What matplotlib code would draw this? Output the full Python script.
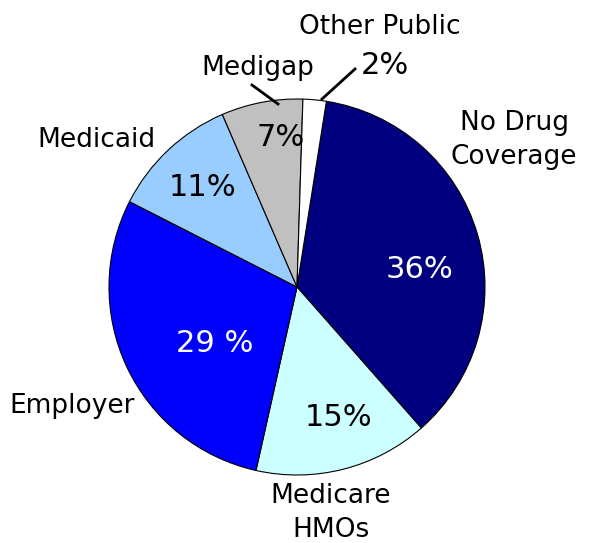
import matplotlib as mpl
mpl.rcParams['font.family'] = 'DejaVu Sans'
import matplotlib.pyplot as plt

# data
labels = ['No Drug\nCoverage', 'Medicare\nHMOs', 'Employer', 'Medicaid', 'Medigap', 'Other Public']
shares = [36, 15, 29, 11, 7, 2]
pct_text = ['36%', '15%', '29 %', '11%', '7%', '2%']
colors = ['#000080', '#CCFFFF', '#0000FF', '#99CCFF', '#C0C0C0', '#FFFFFF']
pct_colors = ['white', 'black', 'white', 'black', 'black', 'black']

W, H = 598, 543
fig = plt.figure(figsize=(W / 100, H / 100), dpi=100)
ax = fig.add_axes([0, 0, 1, 1])

cx, cy, r = 297, H - 287, 188
wedges, _ = ax.pie(shares, colors=colors, startangle=81, counterclock=False,
                   center=(cx, cy), radius=r,
                   wedgeprops=dict(edgecolor='black', linewidth=0.8))

# category labels (pixel positions, y from top)
lab_pos = [(514, 140), (331, 513), (72, 406), (96, 140), (258, 68), (380, 27)]
for lab, (x, y) in zip(labels, lab_pos):
    ax.text(x, H - y, lab, ha='center', va='center', fontsize=19,
            linespacing=1.4)

# percentage labels
pct_pos = [(420, 270), (338, 417), (215, 343), (202, 187), (281, 137), (385, 65)]
for t, c, (x, y) in zip(pct_text, pct_colors, pct_pos):
    ax.text(x, H - y, t, ha='center', va='center', fontsize=22, color=c)

# leader lines
ax.plot([355, 322], [H - 69, H - 99], color='black', lw=2)
ax.plot([252, 278], [H - 85, H - 104], color='black', lw=2)

ax.set_xlim(0, W)
ax.set_ylim(0, H)
ax.set_aspect('auto')
ax.axis('off')

fig.savefig('out.png', dpi=100)
